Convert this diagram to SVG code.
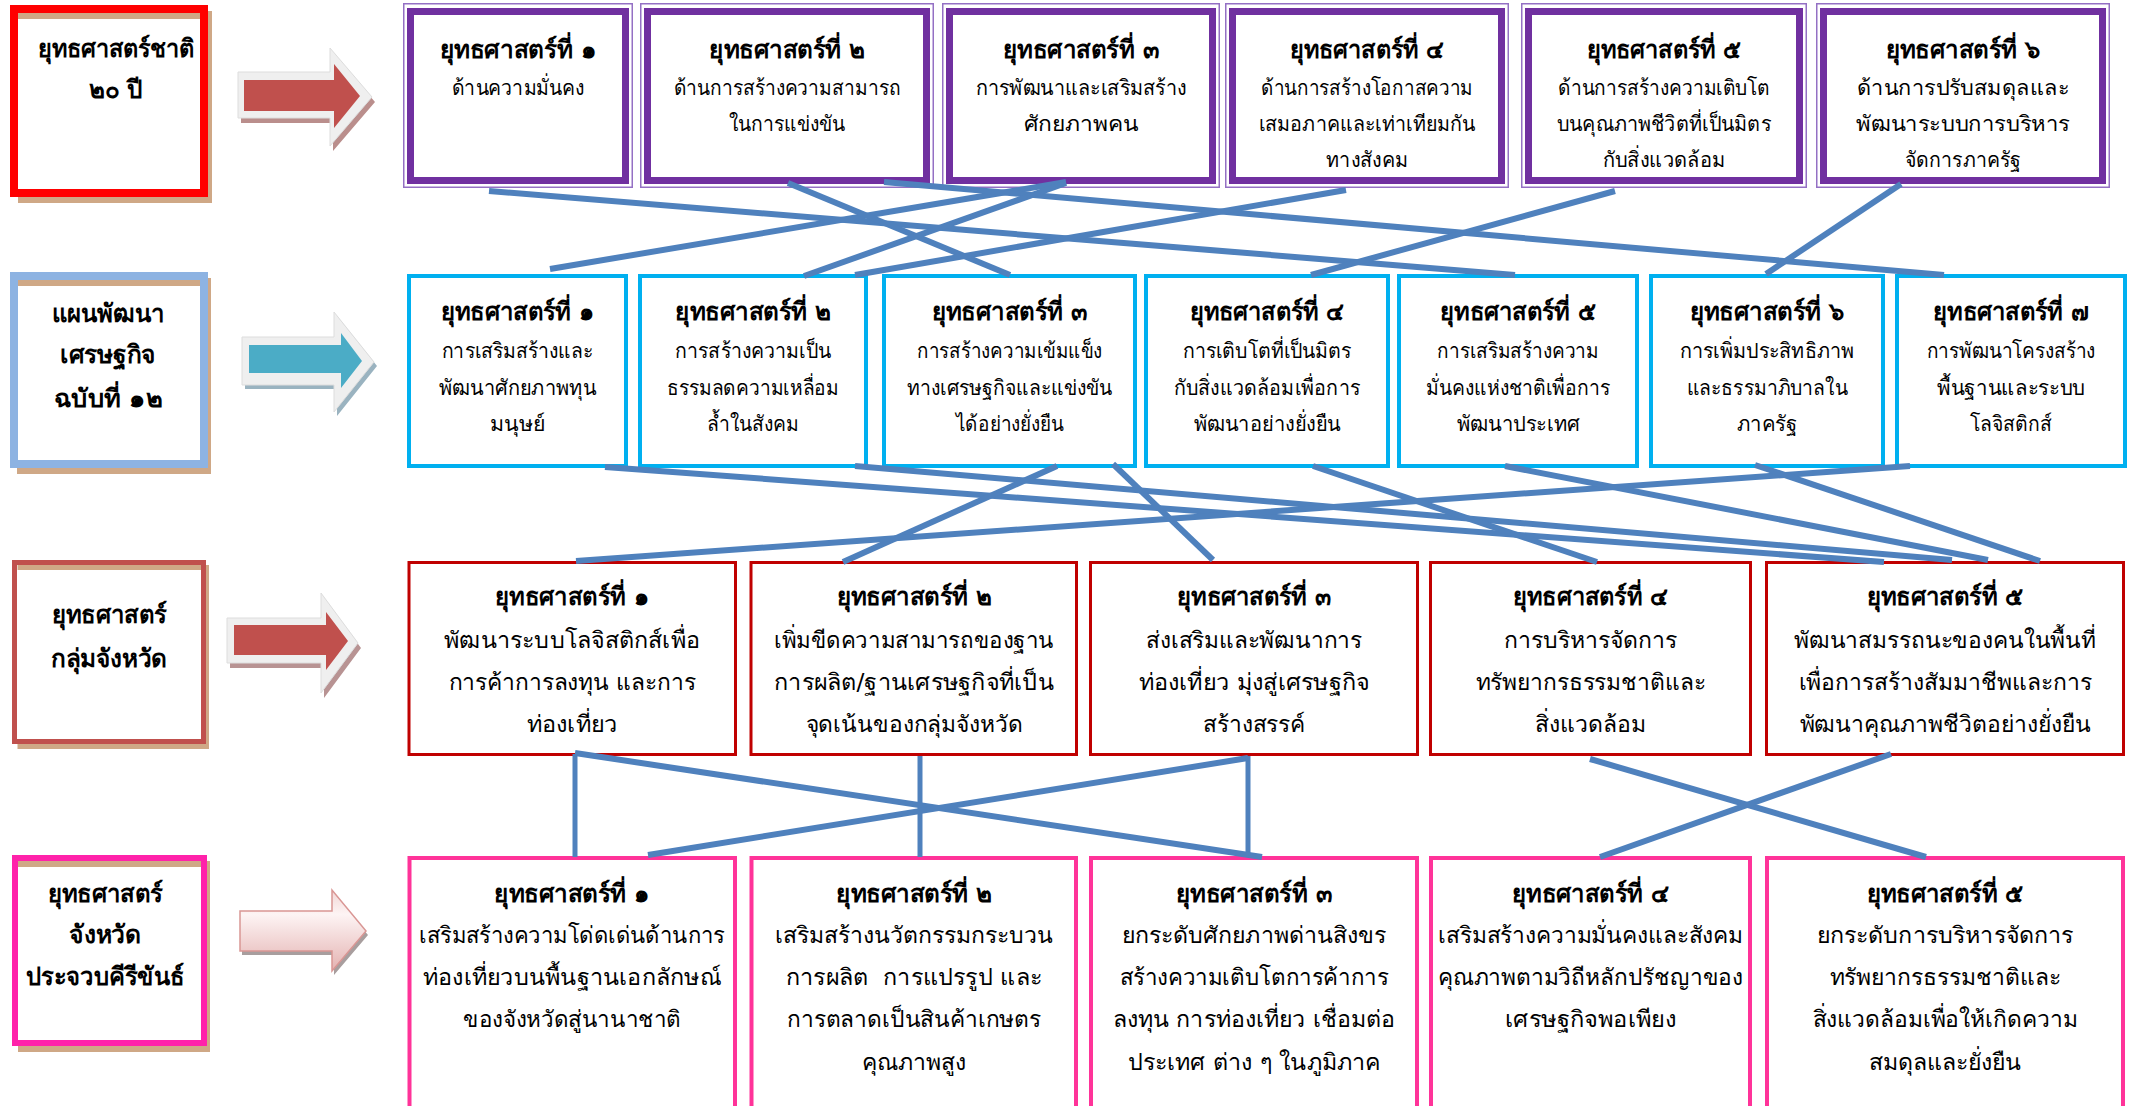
<svg xmlns="http://www.w3.org/2000/svg" width="2134" height="1106" viewBox="0 0 2134 1106">
<defs>
<style>
.t{font-family:"DejaVu Sans","Noto Sans",sans-serif;text-anchor:middle;fill:#000}
.h{font-weight:bold;font-size:25px}
.s1{font-size:21px}
.s3{font-size:23px}
.lab{font-weight:bold;font-size:25px}
.pt{fill:none;stroke:#9470C4;stroke-width:1.5}
.pf{fill:#fff;stroke:#7030A0;stroke-width:7}
.cy{fill:#fff;stroke:#00B0F0;stroke-width:4}
.rd{fill:#fff;stroke:#C00000;stroke-width:3}
.pk{fill:#fff;stroke:#FF3399;stroke-width:4}
.sh{fill:none;stroke:#CFA886}
.c{stroke:#4F81BD;stroke-width:6;fill:none}
.cv{stroke:#4F81BD;stroke-width:5;fill:none}
.bev{fill:#EFEFEF;stroke:#DDDDDD;stroke-width:1}
</style>
<linearGradient id="pg" x1="0" y1="0" x2="0" y2="1">
<stop offset="0" stop-color="#F2D6D5"/>
<stop offset="0.3" stop-color="#FDF4F4"/>
<stop offset="1" stop-color="#E4B2B1"/>
</linearGradient>
</defs>
<rect x="0" y="0" width="2134" height="1106" fill="#fff"/>

<g id="label-national">
<path class="sh" stroke-width="8" d="M18,15 H208 V199 H18"/>
<rect x="14" y="9" width="190" height="184" fill="none" stroke="#FF0000" stroke-width="8"/>
<text class="t lab" x="116" y="57" textLength="157" lengthAdjust="spacingAndGlyphs">ยุทธศาสตร์ชาติ</text>
<text class="t lab" x="116" y="98" textLength="54" lengthAdjust="spacingAndGlyphs">๒๐ ปี</text>
</g>
<g id="label-plan12">
<path class="sh" stroke-width="8" d="M17,282 H207 V470 H17"/>
<rect x="14" y="276" width="190" height="188" fill="none" stroke="#8DB3E2" stroke-width="8"/>
<text class="t lab" x="108" y="322" textLength="113" lengthAdjust="spacingAndGlyphs">แผนพัฒนา</text>
<text class="t lab" x="108" y="363" textLength="96" lengthAdjust="spacingAndGlyphs">เศรษฐกิจ</text>
<text class="t lab" x="108" y="407" textLength="108" lengthAdjust="spacingAndGlyphs">ฉบับที่ ๑๒</text>
</g>
<g id="label-group">
<path class="sh" stroke-width="5" d="M17.5,567.5 H206.5 V746.5 H17.5"/>
<rect x="14.5" y="562.5" width="189" height="179" fill="none" stroke="#C0504D" stroke-width="5"/>
<text class="t lab" x="109" y="623" textLength="115" lengthAdjust="spacingAndGlyphs">ยุทธศาสตร์</text>
<text class="t lab" x="109" y="667" textLength="116" lengthAdjust="spacingAndGlyphs">กลุ่มจังหวัด</text>
</g>
<g id="label-province">
<path class="sh" stroke-width="6" d="M18,864 H207 V1049 H18"/>
<rect x="15" y="858" width="189" height="185" fill="none" stroke="#FF22AA" stroke-width="6"/>
<text class="t lab" x="105" y="902" textLength="115" lengthAdjust="spacingAndGlyphs">ยุทธศาสตร์</text>
<text class="t lab" x="105" y="943" textLength="72" lengthAdjust="spacingAndGlyphs">จังหวัด</text>
<text class="t lab" x="105" y="985" textLength="158" lengthAdjust="spacingAndGlyphs">ประจวบคีรีขันธ์</text>
</g>

<g id="arrow1">
<polygon fill="#BA8E8C" points="241,77 333,77 333,53 375,102 333,151 333,123 241,123"/>
<polygon class="bev" points="238,72 330,72 330,48 372,97 330,146 330,118 238,118"/>
<polygon fill="#C0504D" points="244,80 334,80 334,64 360,96 334,128 334,111 244,111"/>
</g>
<g id="arrow2">
<polygon fill="#9AB3C0" points="245,341 337,341 337,316 377,366 337,416 337,389 245,389"/>
<polygon class="bev" points="242,337 334,337 334,312 374,362 334,412 334,385 242,385"/>
<polygon fill="#4BACC6" points="249,345 341,345 341,333 362,361 341,388 341,373 249,373"/>
</g>
<g id="arrow3">
<polygon fill="#B89393" points="230,623 324,623 324,598 361,648 324,698 324,668 230,668"/>
<polygon class="bev" points="227,618 321,618 321,593 358,643 321,693 321,663 227,663"/>
<polygon fill="#C0504D" points="234,625 326,625 326,612 348,641 326,670 326,655 234,655"/>
</g>
<g id="arrow4">
<polygon fill="#A89E9E" points="242,915 334,915 334,894 368,935 334,975 334,955 242,955"/>
<polygon fill="url(#pg)" stroke="#D99694" stroke-width="1.5" points="240,911 332,911 332,890 366,931 332,971 332,951 240,951"/>
</g>

<g id="n1-1">
<rect class="pt" x="403.75" y="3.75" width="228.5" height="183.5"/>
<rect class="pf" x="410.5" y="11.5" width="215" height="169"/>
<text class="t h" x="518" y="58" textLength="157" lengthAdjust="spacingAndGlyphs">ยุทธศาสตร์ที่ ๑</text>
<text class="t s1" x="518" y="95" textLength="133" lengthAdjust="spacingAndGlyphs">ด้านความมั่นคง</text>
</g>
<g id="n1-2">
<rect class="pt" x="640.75" y="3.75" width="292.5" height="183.5"/>
<rect class="pf" x="647.5" y="11.5" width="279" height="169"/>
<text class="t h" x="787" y="58" textLength="156" lengthAdjust="spacingAndGlyphs">ยุทธศาสตร์ที่ ๒</text>
<text class="t s1" x="787" y="95" textLength="227" lengthAdjust="spacingAndGlyphs">ด้านการสร้างความสามารถ</text>
<text class="t s1" x="787" y="131" textLength="116" lengthAdjust="spacingAndGlyphs">ในการแข่งขัน</text>
</g>
<g id="n1-3">
<rect class="pt" x="942.75" y="3.75" width="276.5" height="183.5"/>
<rect class="pf" x="949.5" y="11.5" width="263" height="169"/>
<text class="t h" x="1081" y="58" textLength="156" lengthAdjust="spacingAndGlyphs">ยุทธศาสตร์ที่ ๓</text>
<text class="t s1" x="1081" y="95" textLength="211" lengthAdjust="spacingAndGlyphs">การพัฒนาและเสริมสร้าง</text>
<text class="t s1" x="1081" y="131" textLength="115" lengthAdjust="spacingAndGlyphs">ศักยภาพคน</text>
</g>
<g id="n1-4">
<rect class="pt" x="1225.75" y="3.75" width="282.5" height="183.5"/>
<rect class="pf" x="1232.5" y="11.5" width="269" height="169"/>
<text class="t h" x="1367" y="58" textLength="154" lengthAdjust="spacingAndGlyphs">ยุทธศาสตร์ที่ ๔</text>
<text class="t s1" x="1367" y="95" textLength="212" lengthAdjust="spacingAndGlyphs">ด้านการสร้างโอกาสความ</text>
<text class="t s1" x="1367" y="131" textLength="217" lengthAdjust="spacingAndGlyphs">เสมอภาคและเท่าเทียมกัน</text>
<text class="t s1" x="1367" y="167" textLength="82" lengthAdjust="spacingAndGlyphs">ทางสังคม</text>
</g>
<g id="n1-5">
<rect class="pt" x="1521.75" y="3.75" width="284.5" height="183.5"/>
<rect class="pf" x="1528.5" y="11.5" width="271" height="169"/>
<text class="t h" x="1664" y="58" textLength="155" lengthAdjust="spacingAndGlyphs">ยุทธศาสตร์ที่ ๕</text>
<text class="t s1" x="1664" y="95" textLength="212" lengthAdjust="spacingAndGlyphs">ด้านการสร้างความเติบโต</text>
<text class="t s1" x="1664" y="131" textLength="214" lengthAdjust="spacingAndGlyphs">บนคุณภาพชีวิตที่เป็นมิตร</text>
<text class="t s1" x="1664" y="167" textLength="123" lengthAdjust="spacingAndGlyphs">กับสิ่งแวดล้อม</text>
</g>
<g id="n1-6">
<rect class="pt" x="1816.75" y="3.75" width="292.5" height="183.5"/>
<rect class="pf" x="1823.5" y="11.5" width="279" height="169"/>
<text class="t h" x="1963" y="58" textLength="155" lengthAdjust="spacingAndGlyphs">ยุทธศาสตร์ที่ ๖</text>
<text class="t s1" x="1963" y="95" textLength="212" lengthAdjust="spacingAndGlyphs">ด้านการปรับสมดุลและ</text>
<text class="t s1" x="1963" y="131" textLength="214" lengthAdjust="spacingAndGlyphs">พัฒนาระบบการบริหาร</text>
<text class="t s1" x="1963" y="167" textLength="116" lengthAdjust="spacingAndGlyphs">จัดการภาครัฐ</text>
</g>

<g id="n2-1">
<rect class="cy" x="409" y="276" width="217" height="190"/>
<text class="t h" x="517.5" y="320" textLength="154" lengthAdjust="spacingAndGlyphs">ยุทธศาสตร์ที่ ๑</text>
<text class="t s1" x="517.5" y="358" textLength="152" lengthAdjust="spacingAndGlyphs">การเสริมสร้างและ</text>
<text class="t s1" x="517.5" y="395" textLength="157" lengthAdjust="spacingAndGlyphs">พัฒนาศักยภาพทุน</text>
<text class="t s1" x="517.5" y="431" textLength="55" lengthAdjust="spacingAndGlyphs">มนุษย์</text>
</g>
<g id="n2-2">
<rect class="cy" x="640" y="276" width="226" height="190"/>
<text class="t h" x="753" y="320" textLength="156" lengthAdjust="spacingAndGlyphs">ยุทธศาสตร์ที่ ๒</text>
<text class="t s1" x="753" y="358" textLength="156" lengthAdjust="spacingAndGlyphs">การสร้างความเป็น</text>
<text class="t s1" x="753" y="395" textLength="172" lengthAdjust="spacingAndGlyphs">ธรรมลดความเหลื่อม</text>
<text class="t s1" x="753" y="431" textLength="92" lengthAdjust="spacingAndGlyphs">ล้ำในสังคม</text>
</g>
<g id="n2-3">
<rect class="cy" x="884" y="276" width="251" height="190"/>
<text class="t h" x="1009.5" y="320" textLength="156" lengthAdjust="spacingAndGlyphs">ยุทธศาสตร์ที่ ๓</text>
<text class="t s1" x="1009.5" y="358" textLength="185" lengthAdjust="spacingAndGlyphs">การสร้างความเข้มแข็ง</text>
<text class="t s1" x="1009.5" y="395" textLength="205" lengthAdjust="spacingAndGlyphs">ทางเศรษฐกิจและแข่งขัน</text>
<text class="t s1" x="1009.5" y="431" textLength="108" lengthAdjust="spacingAndGlyphs">ได้อย่างยั่งยืน</text>
</g>
<g id="n2-4">
<rect class="cy" x="1146" y="276" width="242" height="190"/>
<text class="t h" x="1267" y="320" textLength="155" lengthAdjust="spacingAndGlyphs">ยุทธศาสตร์ที่ ๔</text>
<text class="t s1" x="1267" y="358" textLength="169" lengthAdjust="spacingAndGlyphs">การเติบโตที่เป็นมิตร</text>
<text class="t s1" x="1267" y="395" textLength="186" lengthAdjust="spacingAndGlyphs">กับสิ่งแวดล้อมเพื่อการ</text>
<text class="t s1" x="1267" y="431" textLength="147" lengthAdjust="spacingAndGlyphs">พัฒนาอย่างยั่งยืน</text>
</g>
<g id="n2-5">
<rect class="cy" x="1399" y="276" width="238" height="190"/>
<text class="t h" x="1518" y="320" textLength="156" lengthAdjust="spacingAndGlyphs">ยุทธศาสตร์ที่ ๕</text>
<text class="t s1" x="1518" y="358" textLength="162" lengthAdjust="spacingAndGlyphs">การเสริมสร้างความ</text>
<text class="t s1" x="1518" y="395" textLength="184" lengthAdjust="spacingAndGlyphs">มั่นคงแห่งชาติเพื่อการ</text>
<text class="t s1" x="1518" y="431" textLength="123" lengthAdjust="spacingAndGlyphs">พัฒนาประเทศ</text>
</g>
<g id="n2-6">
<rect class="cy" x="1651" y="276" width="232" height="190"/>
<text class="t h" x="1767" y="320" textLength="155" lengthAdjust="spacingAndGlyphs">ยุทธศาสตร์ที่ ๖</text>
<text class="t s1" x="1767" y="358" textLength="175" lengthAdjust="spacingAndGlyphs">การเพิ่มประสิทธิภาพ</text>
<text class="t s1" x="1767" y="395" textLength="161" lengthAdjust="spacingAndGlyphs">และธรรมาภิบาลใน</text>
<text class="t s1" x="1767" y="431" textLength="61" lengthAdjust="spacingAndGlyphs">ภาครัฐ</text>
</g>
<g id="n2-7">
<rect class="cy" x="1897" y="276" width="228" height="190"/>
<text class="t h" x="2011" y="320" textLength="156" lengthAdjust="spacingAndGlyphs">ยุทธศาสตร์ที่ ๗</text>
<text class="t s1" x="2011" y="358" textLength="169" lengthAdjust="spacingAndGlyphs">การพัฒนาโครงสร้าง</text>
<text class="t s1" x="2011" y="395" textLength="148" lengthAdjust="spacingAndGlyphs">พื้นฐานและระบบ</text>
<text class="t s1" x="2011" y="431" textLength="82" lengthAdjust="spacingAndGlyphs">โลจิสติกส์</text>
</g>

<g id="n3-1">
<rect class="rd" x="409" y="562.5" width="326.5" height="192"/>
<text class="t h" x="572" y="605" textLength="154" lengthAdjust="spacingAndGlyphs">ยุทธศาสตร์ที่ ๑</text>
<text class="t s3" x="572" y="648" textLength="256" lengthAdjust="spacingAndGlyphs">พัฒนาระบบโลจิสติกส์เพื่อ</text>
<text class="t s3" x="572" y="690" textLength="247" lengthAdjust="spacingAndGlyphs">การค้าการลงทุน และการ</text>
<text class="t s3" x="572" y="732" textLength="91" lengthAdjust="spacingAndGlyphs">ท่องเที่ยว</text>
</g>
<g id="n3-2">
<rect class="rd" x="751" y="562.5" width="325.5" height="192"/>
<text class="t h" x="914" y="605" textLength="155" lengthAdjust="spacingAndGlyphs">ยุทธศาสตร์ที่ ๒</text>
<text class="t s3" x="914" y="648" textLength="280" lengthAdjust="spacingAndGlyphs">เพิ่มขีดความสามารถของฐาน</text>
<text class="t s3" x="914" y="690" textLength="280" lengthAdjust="spacingAndGlyphs">การผลิต/ฐานเศรษฐกิจที่เป็น</text>
<text class="t s3" x="914" y="732" textLength="217" lengthAdjust="spacingAndGlyphs">จุดเน้นของกลุ่มจังหวัด</text>
</g>
<g id="n3-3">
<rect class="rd" x="1090.5" y="562.5" width="327" height="192"/>
<text class="t h" x="1254" y="605" textLength="154" lengthAdjust="spacingAndGlyphs">ยุทธศาสตร์ที่ ๓</text>
<text class="t s3" x="1254" y="648" textLength="216" lengthAdjust="spacingAndGlyphs">ส่งเสริมและพัฒนาการ</text>
<text class="t s3" x="1254" y="690" textLength="231" lengthAdjust="spacingAndGlyphs">ท่องเที่ยว มุ่งสู่เศรษฐกิจ</text>
<text class="t s3" x="1254" y="732" textLength="102" lengthAdjust="spacingAndGlyphs">สร้างสรรค์</text>
</g>
<g id="n3-4">
<rect class="rd" x="1430.5" y="562.5" width="320" height="192"/>
<text class="t h" x="1590.5" y="605" textLength="155" lengthAdjust="spacingAndGlyphs">ยุทธศาสตร์ที่ ๔</text>
<text class="t s3" x="1590.5" y="648" textLength="173" lengthAdjust="spacingAndGlyphs">การบริหารจัดการ</text>
<text class="t s3" x="1590.5" y="690" textLength="230" lengthAdjust="spacingAndGlyphs">ทรัพยากรธรรมชาติและ</text>
<text class="t s3" x="1590.5" y="732" textLength="111" lengthAdjust="spacingAndGlyphs">สิ่งแวดล้อม</text>
</g>
<g id="n3-5">
<rect class="rd" x="1766.5" y="562.5" width="357" height="192"/>
<text class="t h" x="1945" y="605" textLength="157" lengthAdjust="spacingAndGlyphs">ยุทธศาสตร์ที่ ๕</text>
<text class="t s3" x="1945" y="648" textLength="302" lengthAdjust="spacingAndGlyphs">พัฒนาสมรรถนะของคนในพื้นที่</text>
<text class="t s3" x="1945" y="690" textLength="293" lengthAdjust="spacingAndGlyphs">เพื่อการสร้างสัมมาชีพและการ</text>
<text class="t s3" x="1945" y="732" textLength="291" lengthAdjust="spacingAndGlyphs">พัฒนาคุณภาพชีวิตอย่างยั่งยืน</text>
</g>

<g id="n4-1">
<rect class="pk" x="409.5" y="858" width="325.5" height="252"/>
<text class="t h" x="572" y="902" textLength="156" lengthAdjust="spacingAndGlyphs">ยุทธศาสตร์ที่ ๑</text>
<text class="t s3" x="572" y="943" textLength="306" lengthAdjust="spacingAndGlyphs">เสริมสร้างความโด่ดเด่นด้านการ</text>
<text class="t s3" x="572" y="985" textLength="298" lengthAdjust="spacingAndGlyphs">ท่องเที่ยวบนพื้นฐานเอกลักษณ์</text>
<text class="t s3" x="572" y="1027" textLength="218" lengthAdjust="spacingAndGlyphs">ของจังหวัดสู่นานาชาติ</text>
</g>
<g id="n4-2">
<rect class="pk" x="751.5" y="858" width="324.5" height="252"/>
<text class="t h" x="914" y="902" textLength="156" lengthAdjust="spacingAndGlyphs">ยุทธศาสตร์ที่ ๒</text>
<text class="t s3" x="914" y="943" textLength="278" lengthAdjust="spacingAndGlyphs">เสริมสร้างนวัตกรรมกระบวน</text>
<text class="t s3" x="914" y="985" textLength="256" lengthAdjust="spacingAndGlyphs" xml:space="preserve">การผลิต  การแปรรูป และ</text>
<text class="t s3" x="914" y="1027" textLength="254" lengthAdjust="spacingAndGlyphs">การตลาดเป็นสินค้าเกษตร</text>
<text class="t s3" x="914" y="1070" textLength="104" lengthAdjust="spacingAndGlyphs">คุณภาพสูง</text>
</g>
<g id="n4-3">
<rect class="pk" x="1091" y="858" width="326" height="252"/>
<text class="t h" x="1254" y="902" textLength="156" lengthAdjust="spacingAndGlyphs">ยุทธศาสตร์ที่ ๓</text>
<text class="t s3" x="1254" y="943" textLength="265" lengthAdjust="spacingAndGlyphs">ยกระดับศักยภาพด่านสิงขร</text>
<text class="t s3" x="1254" y="985" textLength="269" lengthAdjust="spacingAndGlyphs">สร้างความเติบโตการค้าการ</text>
<text class="t s3" x="1254" y="1027" textLength="283" lengthAdjust="spacingAndGlyphs">ลงทุน การท่องเที่ยว เชื่อมต่อ</text>
<text class="t s3" x="1254" y="1070" textLength="253" lengthAdjust="spacingAndGlyphs">ประเทศ ต่าง ๆ ในภูมิภาค</text>
</g>
<g id="n4-4">
<rect class="pk" x="1431" y="858" width="319" height="252"/>
<text class="t h" x="1590.5" y="902" textLength="157" lengthAdjust="spacingAndGlyphs">ยุทธศาสตร์ที่ ๔</text>
<text class="t s3" x="1590.5" y="943" textLength="305" lengthAdjust="spacingAndGlyphs">เสริมสร้างความมั่นคงและสังคม</text>
<text class="t s3" x="1590.5" y="985" textLength="305" lengthAdjust="spacingAndGlyphs">คุณภาพตามวิถีหลักปรัชญาของ</text>
<text class="t s3" x="1590.5" y="1027" textLength="171" lengthAdjust="spacingAndGlyphs">เศรษฐกิจพอเพียง</text>
</g>
<g id="n4-5">
<rect class="pk" x="1767" y="858" width="356" height="252"/>
<text class="t h" x="1945" y="902" textLength="157" lengthAdjust="spacingAndGlyphs">ยุทธศาสตร์ที่ ๕</text>
<text class="t s3" x="1945" y="943" textLength="257" lengthAdjust="spacingAndGlyphs">ยกระดับการบริหารจัดการ</text>
<text class="t s3" x="1945" y="985" textLength="231" lengthAdjust="spacingAndGlyphs">ทรัพยากรธรรมชาติและ</text>
<text class="t s3" x="1945" y="1027" textLength="265" lengthAdjust="spacingAndGlyphs">สิ่งแวดล้อมเพื่อให้เกิดความ</text>
<text class="t s3" x="1945" y="1070" textLength="153" lengthAdjust="spacingAndGlyphs">สมดุลและยั่งยืน</text>
</g>

<g id="connectors">
<line class="c" x1="489" y1="191" x2="1515" y2="275"/>
<line class="c" x1="550" y1="269" x2="1066" y2="182"/>
<line class="c" x1="788" y1="183" x2="1010" y2="275"/>
<line class="c" x1="884" y1="182" x2="1944" y2="275"/>
<line class="c" x1="804" y1="276" x2="1066" y2="183"/>
<line class="c" x1="855" y1="275" x2="1346" y2="190"/>
<line class="c" x1="1311" y1="275" x2="1615" y2="191"/>
<line class="c" x1="1766" y1="274" x2="1901" y2="184"/>
<line class="c" x1="605" y1="467" x2="1884" y2="562"/>
<line class="c" x1="855" y1="466" x2="1952" y2="560"/>
<line class="c" x1="1057" y1="466" x2="843" y2="562"/>
<line class="c" x1="1113" y1="464" x2="1213" y2="560"/>
<line class="c" x1="576" y1="561" x2="1910" y2="466"/>
<line class="c" x1="1313" y1="466" x2="1597" y2="562"/>
<line class="c" x1="1505" y1="466" x2="1988" y2="560"/>
<line class="c" x1="1755" y1="465" x2="2040" y2="561"/>
<line class="cv" x1="575" y1="754" x2="575" y2="857"/>
<line class="cv" x1="920" y1="756" x2="920" y2="857"/>
<line class="cv" x1="1248" y1="756" x2="1248" y2="855"/>
<line class="c" x1="575" y1="753" x2="1262" y2="857"/>
<line class="c" x1="648" y1="855" x2="1248" y2="758"/>
<line class="c" x1="1590" y1="759" x2="1926" y2="857"/>
<line class="c" x1="1891" y1="754" x2="1600" y2="857"/>
</g>
</svg>
